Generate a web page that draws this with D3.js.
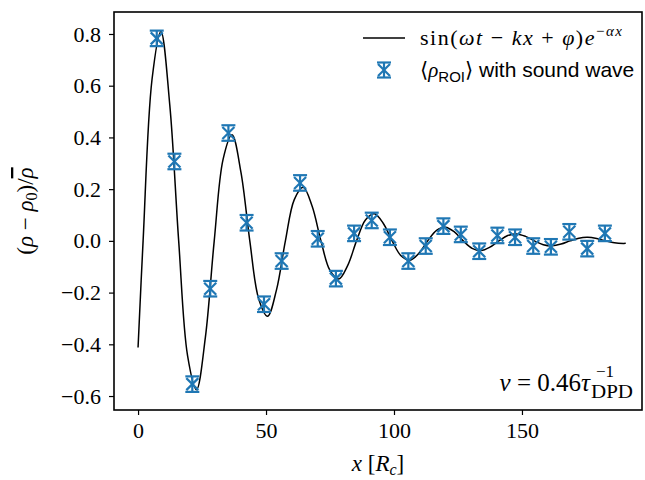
<!DOCTYPE html>
<html>
<head>
<meta charset="utf-8">
<script src="https://cdn.jsdelivr.net/npm/d3@7"></script>
<style>
  body { margin: 0; background: #fff; }
</style>
</head>
<body>
<svg id="chart" width="645" height="480"></svg>
<script>
// measured points, <rho_ROI> with sound wave
const ptX = [7.3, 14.2, 21.2, 28.2, 35.3, 42.4, 49.2, 56.1, 63.3, 70.2, 77.3, 84.4, 91.3,
  98.4, 105.6, 112.4, 119.3, 126.1, 133.3, 140.4, 147.3, 154.4, 161.3, 168.5, 175.5, 182.4];
const ptY = [0.783, 0.307, -0.554, -0.185, 0.417, 0.070, -0.245, -0.078, 0.224, 0.008, -0.146, 0.029, 0.079,
  0.014, -0.078, -0.020, 0.057, 0.025, -0.040, 0.021, 0.014, -0.020, -0.023, 0.035, -0.030, 0.029];
const ptErr = [0.03, 0.03, 0.03, 0.03, 0.03, 0.03, 0.03, 0.03, 0.03, 0.03, 0.03, 0.03, 0.03,
  0.03, 0.03, 0.03, 0.03, 0.03, 0.03, 0.03, 0.03, 0.03, 0.03, 0.03, 0.03, 0.03];

// fitted curve
const fitX = [0, 1.97, 5.45, 8.91, 12.39, 15.87, 19.34, 22.82, 26.29, 29.76, 33.24, 36.72, 40.19,
  43.66, 47.14, 50.61, 54.09, 57.57, 61.04, 64.51, 67.99, 71.46, 74.94, 78.41, 81.88, 85.36,
  88.84, 92.32, 95.78, 99.26, 102.74, 106.21, 109.69, 113.16, 116.63, 120.11, 123.59, 127.06,
  130.53, 134.01, 137.48, 140.96, 144.44, 147.90, 151.38, 154.86, 158.33, 161.81, 165.28,
  168.76, 172.23, 175.71, 179.19, 182.65, 186.13, 189.61, 190.55];
const fitY = [-0.412, 0, 0.624, 0.810, 0.526, 0, -0.444, -0.576, -0.374, 0, 0.316, 0.410, 0.266,
  0, -0.2245, -0.2915, -0.1893, 0, 0.1596, 0.2073, 0.1347, 0, -0.1135, -0.1475, -0.0958, 0,
  0.0808, 0.1049, 0.0681, 0, -0.0574, -0.0746, -0.0484, 0, 0.0408, 0.0530, 0.0344, 0,
  -0.0290, -0.0377, -0.0245, 0, 0.0206, 0.0268, 0.0174, 0, -0.0147, -0.0191, -0.0124,
  0, 0.0105, 0.0136, 0.0088, 0, -0.0074, -0.0097, -0.0094];

const xTicks = [0, 50, 100, 150];
const yTicks = [-0.6, -0.4, -0.2, 0.0, 0.2, 0.4, 0.6, 0.8];

const SERIF = '"Liberation Serif", "DejaVu Serif", serif';
const SANS = '"Liberation Sans", Arial, sans-serif';

const svg = d3.select('#chart');
const margin = { top: 12, right: 3, bottom: 70, left: 114 };
const width = 645 - margin.left - margin.right;
const height = 480 - margin.top - margin.bottom;
const blue = '#1f77b4';

const x = d3.scaleLinear().domain([-9.4, 196.9]).range([0, width]);
const y = d3.scaleLinear().domain([-0.654, 0.885]).range([height, 0]);

const g = svg.append('g')
  .attr('transform', `translate(${margin.left},${margin.top})`);

// axes
const xAxis = g.append('g')
  .attr('transform', `translate(0,${height})`)
  .call(d3.axisBottom(x).tickValues(xTicks).tickSize(5).tickPadding(7).tickFormat(d3.format('d')));
const yAxis = g.append('g')
  .call(d3.axisLeft(y).tickValues(yTicks).tickSize(5).tickPadding(8).tickFormat(d3.format('.1f')));

[xAxis, yAxis].forEach(a => {
  a.select('.domain').remove();
  a.selectAll('line').attr('stroke', '#000').attr('stroke-width', 1.2);
  a.selectAll('text')
    .style('font-family', SERIF)
    .style('font-size', '22px')
    .attr('fill', '#000');
});

// fitted curve
const line = d3.line()
  .x((d, i) => x(fitX[i]))
  .y(d => y(d))
  .curve(d3.curveCatmullRom.alpha(0.5));

g.append('path')
  .datum(fitY)
  .attr('d', line)
  .attr('fill', 'none')
  .attr('stroke', '#000')
  .attr('stroke-width', 1.5);

// error bar + x marker
function drawMarker(sel, half) {
  sel.append('line').attr('x1', 0).attr('x2', 0).attr('y1', -half).attr('y2', half);
  sel.append('line').attr('x1', -7).attr('x2', 7).attr('y1', -half).attr('y2', -half);
  sel.append('line').attr('x1', -7).attr('x2', 7).attr('y1', half).attr('y2', half);
  sel.append('line').attr('x1', -6).attr('x2', 6).attr('y1', -6).attr('y2', 6);
  sel.append('line').attr('x1', -6).attr('x2', 6).attr('y1', 6).attr('y2', -6);
  sel.attr('stroke', blue).attr('stroke-width', 2.2).attr('fill', 'none');
}

ptY.forEach((v, i) => {
  const m = g.append('g')
    .attr('transform', `translate(${x(ptX[i])},${y(v)})`);
  drawMarker(m, y(0) - y(ptErr[i]));
});

// frame
g.append('rect')
  .attr('width', width).attr('height', height)
  .attr('fill', 'none').attr('stroke', '#000').attr('stroke-width', 1.6);

// axis labels
svg.append('text')
  .style('font-family', SERIF)
  .style('font-size', '23px')
  .attr('x', margin.left + width / 2).attr('y', 471)
  .attr('text-anchor', 'middle')
  .html('<tspan font-style="italic">x</tspan> [<tspan font-style="italic">R</tspan><tspan font-style="italic" font-size="16" dy="4">c</tspan><tspan dy="-4">]</tspan>');

svg.append('text')
  .style('font-family', SERIF)
  .style('font-size', '23px')
  .attr('transform', `translate(33,${margin.top + height / 2}) rotate(-90)`)
  .attr('text-anchor', 'middle')
  .html('(<tspan font-style="italic">ρ</tspan> − <tspan font-style="italic">ρ</tspan><tspan font-size="16" dy="4">0</tspan><tspan dy="-4">)/</tspan><tspan font-style="italic" style="text-decoration: overline">ρ</tspan>');

// legend
const lg = svg.append('g');
lg.append('line')
  .attr('x1', 363).attr('x2', 405).attr('y1', 38).attr('y2', 38)
  .attr('stroke', '#000').attr('stroke-width', 1.5);
lg.append('text')
  .style('font-family', SERIF)
  .style('font-size', '22px')
  .attr('x', 420).attr('y', 45)
  .attr('textLength', 202).attr('lengthAdjust', 'spacing')
  .html('sin(<tspan font-style="italic">ωt</tspan> − <tspan font-style="italic">kx</tspan> + <tspan font-style="italic">φ</tspan>)<tspan font-style="italic">e</tspan><tspan font-size="15" dy="-9">−<tspan font-style="italic">αx</tspan></tspan>');
drawMarker(lg.append('g').attr('transform', 'translate(384,70)'), 7.5);
lg.append('text')
  .attr('x', 420).attr('y', 77)
  .style('font-size', '21px')
  .html(`<tspan style='font-family:${SERIF}'>⟨<tspan font-style="italic">ρ</tspan></tspan><tspan style='font-family:${SANS}' font-size="15" dy="5">ROI</tspan><tspan style='font-family:${SERIF}' dy="-5">⟩</tspan><tspan style='font-family:${SANS}'> with sound wave</tspan>`);

// annotation: nu = 0.46 tau_DPD^-1
const ann = svg.append('g').style('font-family', SERIF);
ann.append('text')
  .style('font-size', '25px')
  .attr('x', 590).attr('y', 391)
  .attr('text-anchor', 'end')
  .html('<tspan font-style="italic">ν</tspan> = 0.46<tspan font-style="italic">τ</tspan>');
ann.append('text')
  .style('font-size', '17px')
  .attr('x', 596).attr('y', 377)
  .text('−1');
ann.append('text')
  .style('font-size', '18px')
  .attr('x', 591).attr('y', 398)
  .attr('textLength', 42).attr('lengthAdjust', 'spacingAndGlyphs')
  .text('DPD');
</script>
</body>
</html>
